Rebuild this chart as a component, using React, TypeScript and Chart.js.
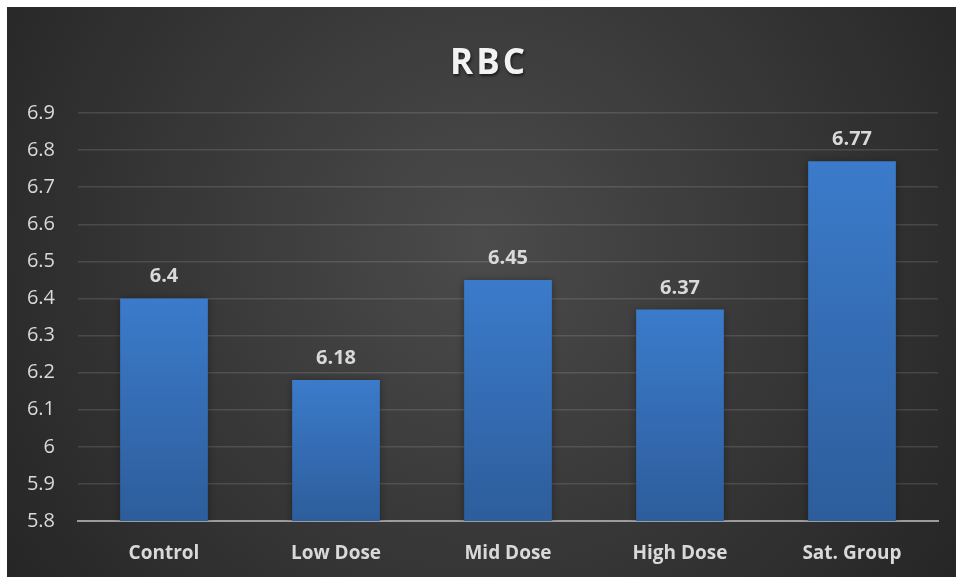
import React, { useEffect, useRef } from "react";
import { Chart, registerables } from "chart.js";

Chart.register(...registerables);

const categories = ["Control", "Low Dose", "Mid Dose", "High Dose", "Sat. Group"];
const rbcValues = [6.4, 6.18, 6.45, 6.37, 6.77];
const chartTitle = "RBC";
const yMin = 5.8;
const yMax = 6.9;
const yStep = 0.1;

const TEXT = "#d9d9d9";
const FONT = "'Open Sans', 'Noto Sans', sans-serif";

// Dark radial backdrop behind the whole chart
const backdrop = {
  id: "backdrop",
  beforeDraw(chart: any) {
    const { ctx, width, height } = chart;
    const g = ctx.createRadialGradient(width * 0.5, height * 0.42, 0, width * 0.5, height * 0.42, width * 0.6);
    g.addColorStop(0, "#4b4b4b");
    g.addColorStop(1, "#262626");
    ctx.save();
    ctx.fillStyle = g;
    ctx.fillRect(0, 0, width, height);
    ctx.restore();
  },
};

// Title with letter spacing and soft shadow
const titlePlugin = {
  id: "titleText",
  afterDraw(chart: any) {
    const { ctx } = chart;
    ctx.save();
    ctx.font = `bold 35px ${FONT}`;
    (ctx as any).letterSpacing = "3px";
    ctx.textAlign = "center";
    ctx.textBaseline = "alphabetic";
    ctx.shadowColor = "rgba(0,0,0,0.6)";
    ctx.shadowBlur = 3;
    ctx.shadowOffsetX = 1;
    ctx.shadowOffsetY = 2;
    ctx.fillStyle = "#f2f2f2";
    ctx.fillText(chartTitle, 482, 67);
    ctx.restore();
  },
};

// Shadow under the bars
const barShadow = {
  id: "barShadow",
  beforeDatasetDraw(chart: any) {
    const { ctx } = chart;
    ctx.save();
    ctx.shadowColor = "rgba(0,0,0,0.35)";
    ctx.shadowBlur = 8;
    ctx.shadowOffsetX = 0;
    ctx.shadowOffsetY = 1;
  },
  afterDatasetDraw(chart: any) {
    chart.ctx.restore();
  },
};

// Value labels above each bar
const valueLabels = {
  id: "valueLabels",
  afterDatasetsDraw(chart: any) {
    const { ctx } = chart;
    const meta = chart.getDatasetMeta(0);
    ctx.save();
    ctx.font = `bold 20px ${FONT}`;
    ctx.fillStyle = TEXT;
    ctx.textAlign = "center";
    ctx.textBaseline = "alphabetic";
    meta.data.forEach((bar: any, i: number) => {
      ctx.fillText(String(rbcValues[i]), bar.x, bar.y - 16);
    });
    ctx.restore();
  },
};

export default function App() {
  const canvasRef = useRef<HTMLCanvasElement | null>(null);

  useEffect(() => {
    if (!canvasRef.current) return;
    const chart = new Chart(canvasRef.current, {
      type: "bar",
      data: {
        labels: categories,
        datasets: [
          {
            label: chartTitle,
            data: rbcValues,
            barPercentage: 0.51,
            categoryPercentage: 1,
            borderWidth: 0,
            backgroundColor: (c: any) => {
              const ch = c.chart;
              const area = ch.chartArea;
              const ys = ch.scales?.y;
              if (!area || !ys || c.dataIndex === undefined) return "#3a78c6";
              const top = ys.getPixelForValue(rbcValues[c.dataIndex]);
              const g = ch.ctx.createLinearGradient(0, top, 0, area.bottom);
              g.addColorStop(0, "#3b7bcb");
              g.addColorStop(1, "#2d5d9b");
              return g;
            },
          },
        ],
      },
      options: {
        responsive: false,
        animation: false,
        layout: { padding: { top: 106, right: 18, left: 0, bottom: 0 } },
        plugins: {
          legend: { display: false },
          title: { display: false },
          tooltip: { enabled: false },
        },
        scales: {
          x: {
            grid: { display: false },
            border: { display: true, color: "#9c9c9c", width: 2 },
            ticks: {
              color: TEXT,
              font: { family: FONT, size: 19, weight: "bold" },
              padding: 13,
            },
            afterFit(scale: any) {
              scale.height = 56;
            },
          },
          y: {
            min: yMin,
            max: yMax,
            border: { display: false },
            grid: {
              color: (c: any) => (c.index === 0 ? "rgba(0,0,0,0)" : "rgba(255,255,255,0.12)"),
              lineWidth: 1.5,
              drawTicks: false,
            },
            ticks: {
              stepSize: yStep,
              color: TEXT,
              font: { family: FONT, size: 20 },
              padding: 23,
              callback: (v: any) => String(Number(Number(v).toFixed(1))),
            },
            afterFit(scale: any) {
              scale.width = 71;
            },
          },
        },
      },
      plugins: [backdrop, barShadow, valueLabels, titlePlugin],
    } as any);
    return () => chart.destroy();
  }, []);

  return (
    <div style={{ position: "absolute", left: 7, top: 7, width: 949, height: 570 }}>
      <canvas ref={canvasRef} width={949} height={570} style={{ display: "block" }} />
    </div>
  );
}
